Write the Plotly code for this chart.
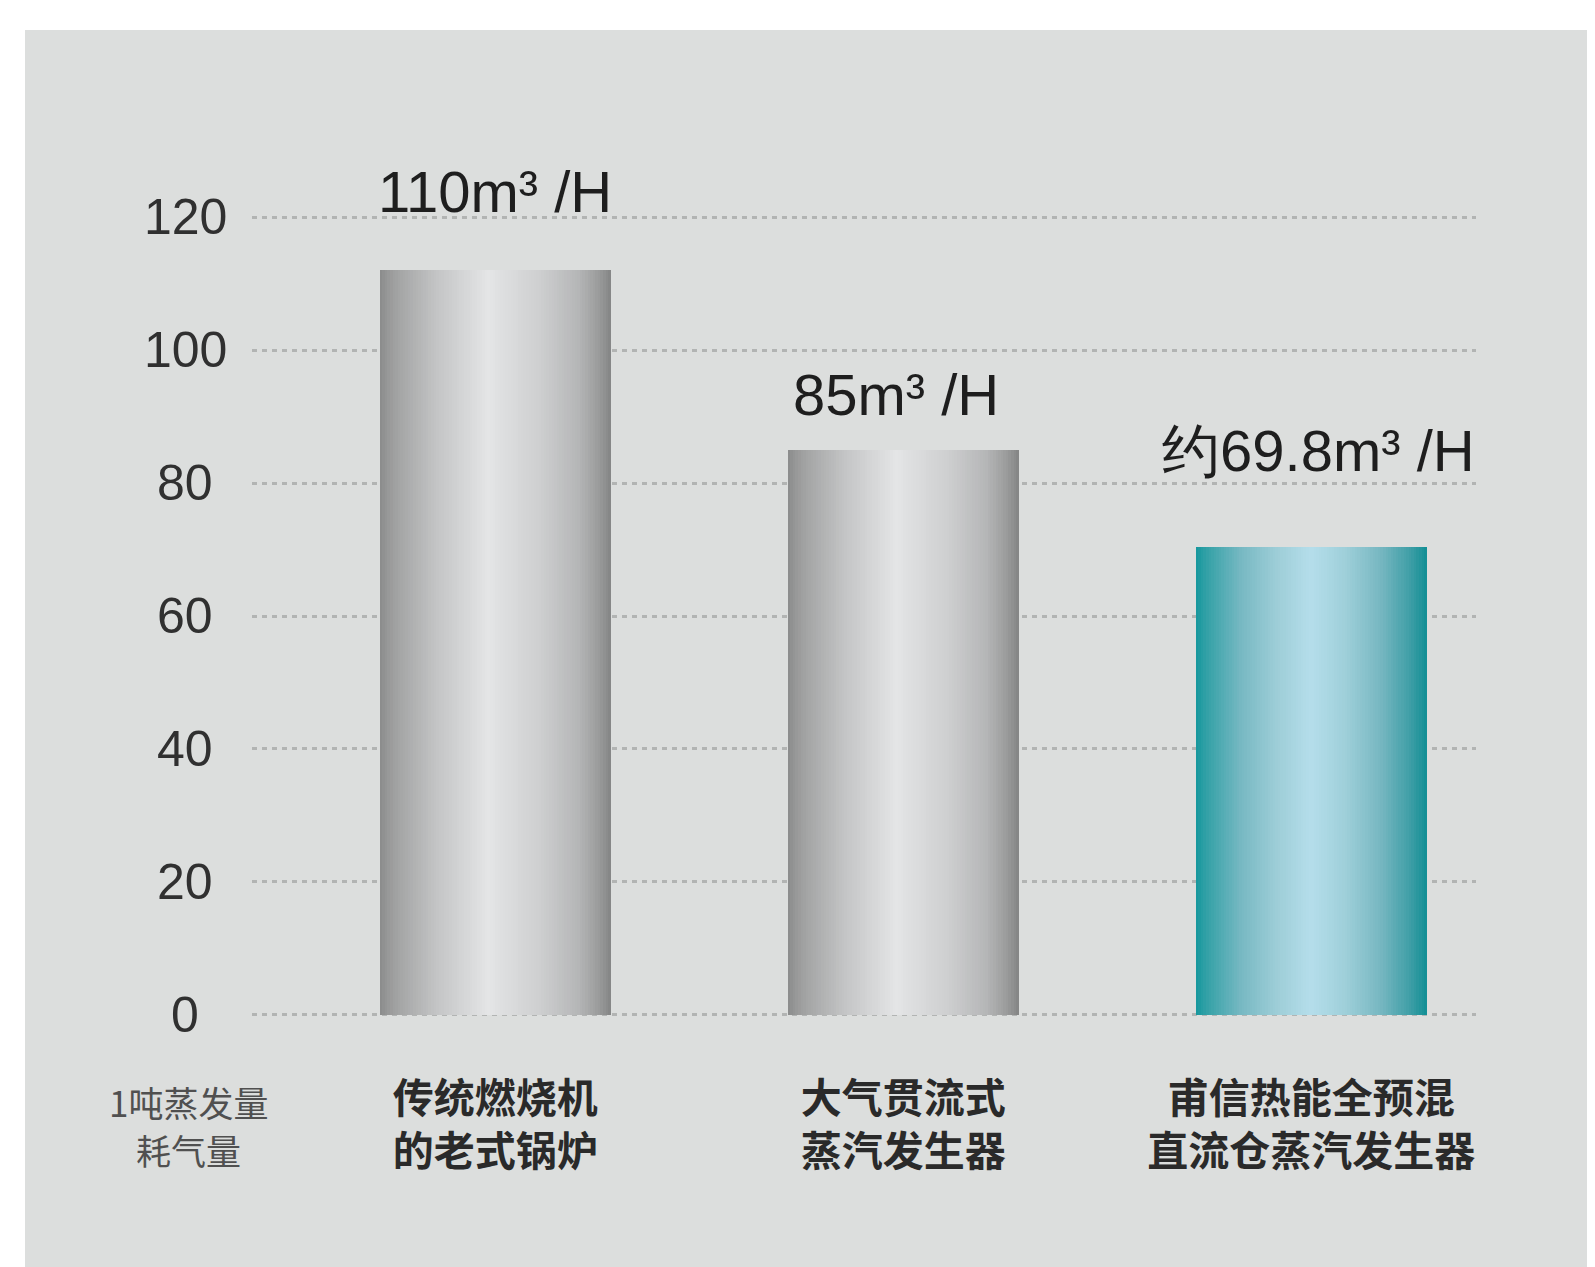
import numpy as np
import plotly.graph_objects as go

# ---------------- data ----------------
categories = ["传统燃烧机<br>的老式锅炉", "大气贯流式<br>蒸汽发生器", "甫信热能全预混<br>直流仓蒸汽发生器"]
values = [112, 85, 70.4]          # bar heights as drawn
value_labels = ["110m³ /H", "85m³ /H", "约69.8m³ /H"]
bar_kind = ["grey", "grey", "teal"]
y_ticks = [0, 20, 40, 60, 80, 100, 120]
y_tick_labels = ["0", "20", "40", "60", "80", "100", "120"]
axis_title_lines = ["1吨蒸发量", "耗气量"]

# ---------------- style ----------------
W, H = 1595, 1267
ML, MR, MT, MB = 244, 127, 176, 227
BAR_W = 0.566
N_STRIPS = 90
label_yshift = [79, 55, 96]
label_xshift = [0, -7, 7]
title_line_px = [1093, 1141]

gradients = {
    "grey": [(0.0, "#8a8b8b"), (0.06, "#9fa0a0"), (0.25, "#c4c5c6"), (0.47, "#e4e5e6"),
             (0.7, "#cdcecf"), (0.86, "#b5b6b7"), (0.95, "#9a9b9b"), (1.0, "#848585")],
    "teal": [(0.0, "#14979d"), (0.06, "#3aa3a9"), (0.2, "#78b9c3"), (0.35, "#9dcdd7"),
             (0.5, "#b5deeb"), (0.65, "#9ecfd9"), (0.8, "#77b7c1"), (0.93, "#3e9ea6"),
             (1.0, "#128f95")],
}


def hex2rgb(h):
    h = h.lstrip("#")
    return np.array([int(h[i:i + 2], 16) for i in (0, 2, 4)], dtype=float)


def grad_color(kind, t):
    stops = gradients[kind]
    pos = [s[0] for s in stops]
    cols = np.array([hex2rgb(s[1]) for s in stops])
    rgb = [np.interp(t, pos, cols[:, c]) for c in range(3)]
    return "rgb(%d,%d,%d)" % tuple(int(round(v)) for v in rgb)


fig = go.Figure()

sw = BAR_W / N_STRIPS
for k in range(N_STRIPS):
    t = (k + 0.5) / N_STRIPS
    fig.add_trace(go.Bar(
        x=categories, y=values,
        width=sw * 1.2, offset=-BAR_W / 2 + k * sw,
        marker=dict(color=[grad_color(kd, t) for kd in bar_kind], line=dict(width=0)),
        showlegend=False, hoverinfo="skip",
    ))

annotations = []
for i, c in enumerate(categories):
    annotations.append(dict(
        x=c, y=values[i], xref="x", yref="y", text=value_labels[i], showarrow=False,
        yshift=label_yshift[i], xshift=label_xshift[i], yanchor="middle", xanchor="center",
        font=dict(family="Liberation Sans, Arial, sans-serif", size=58, color="#1e1e1e"),
    ))

plot_w = W - ML - MR
plot_h = H - MT - MB
tick_x = (177 - ML) / plot_w
for v, s in zip(y_ticks, y_tick_labels):
    annotations.append(dict(
        x=tick_x, y=v, xref="paper", yref="y", text=s, showarrow=False,
        xanchor="center", yanchor="middle",
        font=dict(family="Liberation Sans, Arial, sans-serif", size=50, color="#303030"),
    ))

for line, py in zip(axis_title_lines, title_line_px):
    annotations.append(dict(
        x=(180 - ML) / plot_w, y=(plot_h + MT - py) / plot_h, xref="paper", yref="paper",
        text=line, showarrow=False, xanchor="center", yanchor="middle",
        font=dict(family="Noto Sans CJK SC", size=35, color="#505050"),
    ))

fig.update_layout(
    width=W, height=H,
    margin=dict(l=ML, r=MR, t=MT, b=MB, pad=0),
    paper_bgcolor="white", plot_bgcolor="rgba(0,0,0,0)",
    barmode="overlay", bargap=0,
    showlegend=False,
    annotations=annotations,
    shapes=[dict(type="rect", xref="paper", yref="paper",
                 x0=(17 - ML) / plot_w, x1=1.3,
                 y0=-0.4, y1=(plot_h + MT - 22) / plot_h,
                 fillcolor="#dcdedd", line=dict(width=0), layer="below")],
    xaxis=dict(
        range=[-0.596, 2.404], showgrid=False, zeroline=False, showline=False,
        ticks="", ticklabelstandoff=23,
        tickfont=dict(family="Noto Sans CJK SC", size=41, color="#2a2a2a", weight="bold"),
    ),
    yaxis=dict(
        range=[-5, 125], tickvals=y_ticks, showticklabels=False, zeroline=False,
        showline=False, showgrid=True, gridcolor="#b2b4b3", gridwidth=2.5,
        griddash="5px,5px",
    ),
)

fig.write_html("out.html")
